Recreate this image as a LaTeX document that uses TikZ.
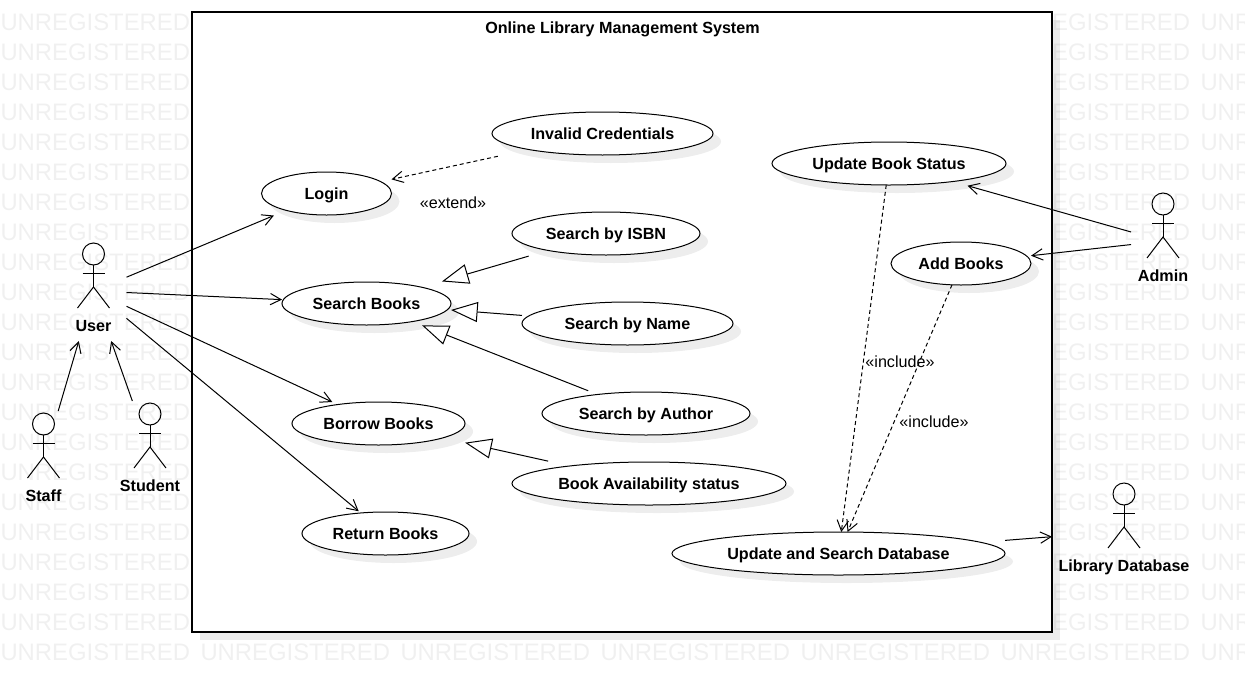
\documentclass[tikz,border=0pt]{standalone}
\usepackage{fontspec}
\setmainfont{Liberation Sans}
\usetikzlibrary{arrows.meta, shapes.geometric, shadows}

\begin{document}
\begin{tikzpicture}[x=0.75pt, y=-0.75pt, >={Straight Barb[length=8pt,width=8.5pt]},
    line width=0.75pt,
    txt/.style={font=\fontsize{12.1}{14}\selectfont, inner sep=0pt, text height=8.6pt, text depth=0pt},
    stamp/.style={font=\fontsize{17.9}{20}\selectfont, text=black!6, anchor=west, inner sep=0pt},
    softshadow/.style={drop shadow={shadow xshift=6pt, shadow yshift=-6pt, fill=black, opacity=0.07}},
    sysbox/.style={rectangle, draw, fill=white, inner sep=0pt, outer sep=0pt, line width=0.85pt, softshadow},
    usecase/.style={ellipse, draw, fill=white, inner sep=0pt, outer sep=0pt, minimum height=32.25pt, softshadow, txt},
    actor/.style={rectangle, inner sep=0pt, outer sep=0pt, minimum height=75pt},
    assoc/.style={->},
    dep/.style={->, dashed, dash pattern=on 3pt off 2.25pt},
    gen/.style={-{Triangle[open, fill=white, length=20pt, width=15pt]}}]
  \useasboundingbox (0,0) rectangle (1245,682);

  % BACKGROUND: stamped text
  \foreach \row in {22,52,...,652}
    \foreach \col in {0,200,...,1200}
      \node[stamp] (stamp-\col-\row) at (\col,\row) {UNREGISTERED};

  % SYSTEM BOUNDARY
  \node[sysbox, minimum width=645pt, minimum height=465pt] (system) at (622,322) {};
  \node[txt] (title) at (622.5,28) {\textbf{Online Library Management System}};

  % USE CASES
  \foreach \name/\x/\y/\wid/\txt in {
      invalid/602.5/133.5/221/Invalid Credentials,
      login/326.5/193.5/130/Login,
      status/889/163.5/234/Update Book Status,
      addbooks/961/263.5/140/Add Books,
      isbn/606/233.5/188/Search by ISBN,
      searchbooks/366.5/303.5/169/Search Books,
      byname/627.5/323.5/211/Search by Name,
      byauthor/646/413.5/208/Search by Author,
      borrow/378.5/423.5/173/Borrow Books,
      availability/649/483.5/274/Book Availability status,
      returnbooks/385.5/533.5/167/Return Books,
      database/838.5/553.5/333/Update and Search Database}
    \node[usecase, minimum width=\wid*0.75pt] (\name) at (\x,\y) {\textbf{\txt}};

  % ACTORS
  \foreach \name/\x/\y/\wid/\txt in {
      user/93.5/291/66/User,
      staff/43.5/461/66/Staff,
      student/150/451/66/Student,
      admin/1163/241/64/Admin,
      libdb/1124/531/144/Library Database} {
    \node[actor, minimum width=\wid*0.75pt] (\name) at (\x,\y) {};
    \begin{scope}[shift={(\x,\y)}]
      \draw (0,-37) circle [radius=11];
      \draw (-11,-18) -- (11,-18);
      \draw (0,-26) -- (0,-4);
      \draw (-16,17) -- (0,-4) -- (16,17);
      \node[txt] (\name-label) at (0,35) {\textbf{\txt}};
    \end{scope}
  }

  % LEFT: user side
  \draw[assoc, shorten >=10pt] (user) -- (login);
  \draw[assoc, shorten >=1pt] (user) -- (searchbooks);
  \draw[assoc, shorten >=4.5pt] (user) -- (borrow);
  \draw[assoc, shorten >=2pt] (user) -- (returnbooks);
  \draw[assoc] (staff) -- (user);
  \draw[assoc] (student) -- (user);

  % MIDDLE: extend and generalisation
  \draw[dep, shorten <=23.8pt, shorten >=8.2pt] (invalid) -- (login);
  \draw[gen, shorten <=15.2pt, shorten >=15.6pt] (isbn) -- (searchbooks);
  \draw[gen, shorten <=5.1pt, shorten >=2.7pt] (byname) -- (searchbooks);
  \draw[gen, shorten <=7.6pt, shorten >=7.8pt] (byauthor) -- (searchbooks);
  \draw[gen, shorten <=16.7pt, shorten >=16.9pt] (availability) -- (borrow);
  \node[txt] (extendlabel) at (453,203) {«extend»};

  % RIGHT: admin side
  \draw[assoc, shorten >=11.5pt] (admin) -- (status);
  \draw[assoc, shorten >=3.2pt] (admin) -- (addbooks);
  \draw[dep] (status) -- (database);
  \draw[dep] (addbooks) -- (database);
  \draw[assoc, shorten <=18.5pt] (database) -- (libdb);
  \node[txt] (includeone) at (900,362) {«include»};
  \node[txt] (includetwo) at (934,422) {«include»};
\end{tikzpicture}
\end{document}
